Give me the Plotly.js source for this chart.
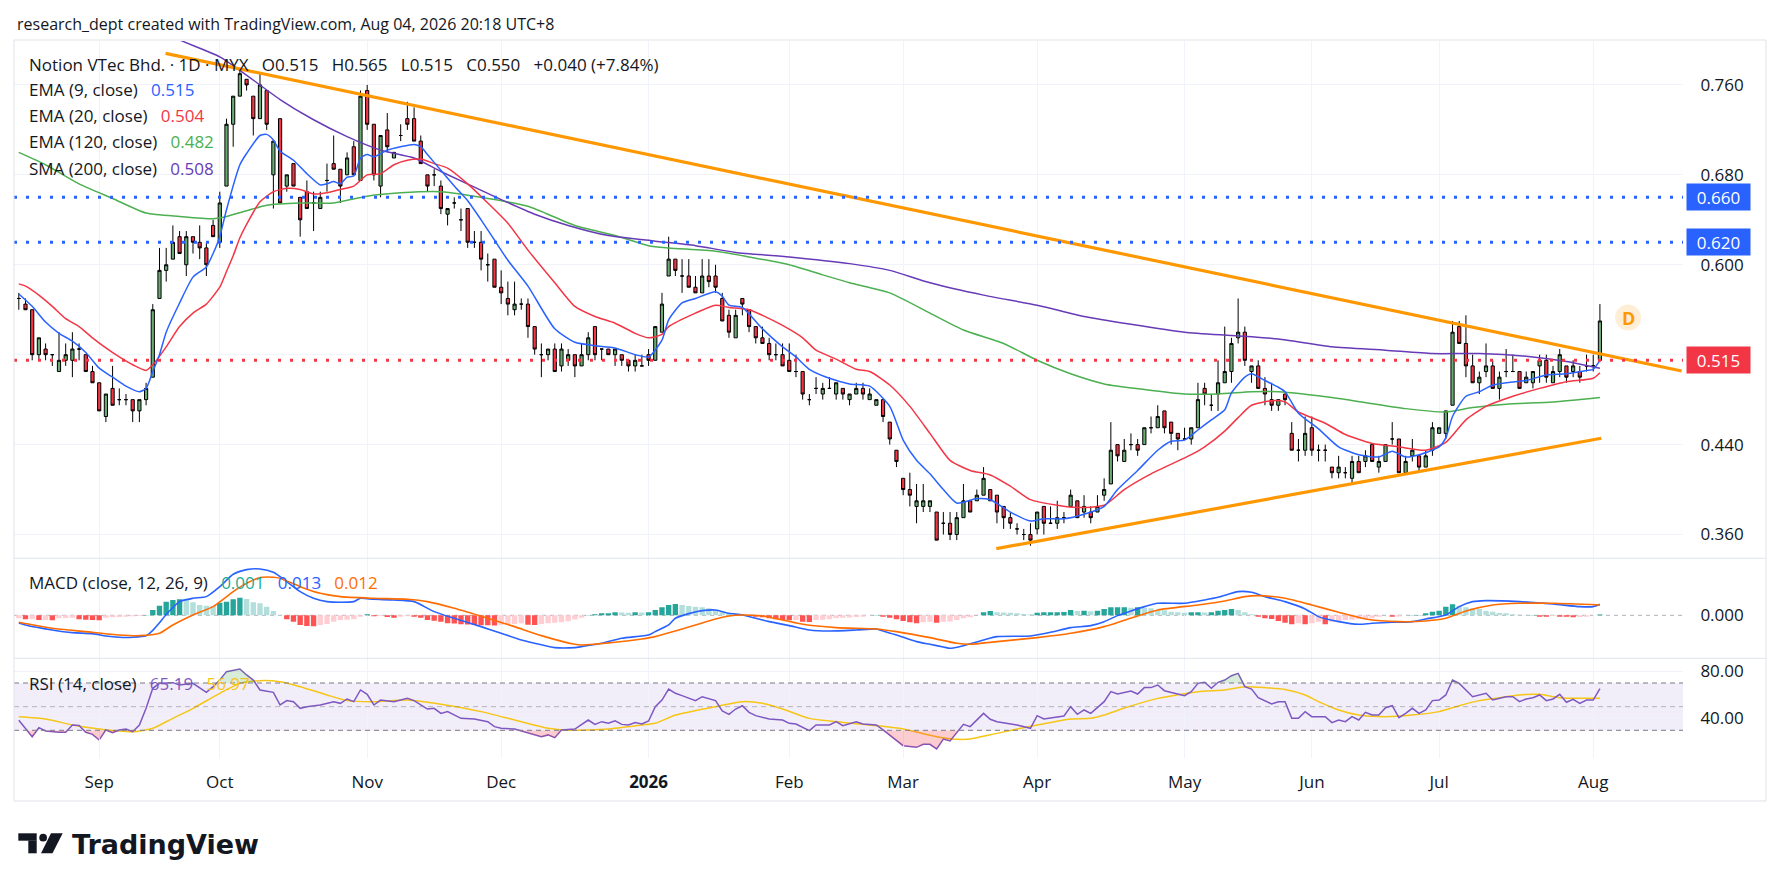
<!DOCTYPE html>
<html><head><meta charset="utf-8">
<script src="https://cdn.plot.ly/plotly-3.0.1.min.js"></script>
<style>html,body{margin:0;padding:0;background:#fff;}#chart{width:1781px;height:891px;}</style>
</head><body><div id="chart"></div>
<script>
const W = 1781, H = 891;
const FONT = '"Open Sans", "Noto Sans", sans-serif';
const TXT = '#131722';

// ---------------- OHLC (daily bars, index 0 .. 236) ----------------
const openP = [
.570,.565,.560,.520,.525,.520,.505,.515,.515,.525,
.520,.505,.495,.465,.490,.480,.480,.480,.470,.480,
.500,.570,.595,.605,.625,.600,.625,.620,.615,.635,
.620,.670,.725,.750,.765,.750,.730,.755,.680,.730,
.670,.690,.660,.665,.655,.650,.675,.690,.685,.680,
.705,.675,.755,.725,.670,.720,.695,.715,.730,.730,
.710,.680,.680,.670,.645,.655,.640,.650,.620,.620,
.600,.605,.580,.570,.560,.565,.565,.545,.520,.520,
.525,.510,.515,.520,.510,.520,.545,.525,.525,.520,
.520,.515,.510,.510,.520,.515,.540,.590,.605,.590,
.590,.580,.575,.590,.590,.570,.555,.535,.570,.560,
.545,.535,.530,.520,.520,.515,.505,.505,.480,.490,
.485,.490,.485,.490,.480,.485,.490,.480,.475,.480,
.460,.435,.410,.400,.385,.385,.385,.380,.370,.370,
.360,.375,.390,.390,.395,.400,.395,.385,.375,.365,
.360,.360,.365,.385,.370,.370,.375,.385,.390,.380,
.380,.380,.395,.405,.440,.425,.440,.440,.440,.455,
.455,.470,.460,.450,.445,.445,.455,.490,.475,.485,
.495,.505,.535,.540,.505,.510,.490,.480,.475,.485,
.450,.435,.435,.455,.435,.435,.420,.415,.415,.410,
.425,.425,.440,.420,.425,.445,.445,.415,.430,.430,
.420,.435,.450,.450,.475,.545,.530,.510,.495,.505,
.510,.490,.505,.505,.505,.495,.495,.510,.515,.495,
.505,.510,.505,.505,.510,.510,.515];
const highP = [
.575,.570,.560,.535,.530,.520,.540,.530,.540,.530,
.520,.510,.495,.485,.510,.490,.485,.480,.480,.495,
.565,.615,.615,.635,.630,.630,.625,.635,.620,.640,
.665,.730,.750,.775,.765,.750,.770,.755,.710,.730,
.680,.690,.660,.675,.665,.665,.690,.715,.685,.700,
.710,.755,.760,.725,.715,.735,.700,.725,.745,.740,
.715,.680,.685,.675,.650,.660,.650,.650,.630,.630,
.610,.605,.595,.585,.585,.570,.570,.545,.530,.525,
.530,.530,.525,.520,.530,.540,.545,.525,.525,.525,
.520,.515,.520,.520,.525,.545,.575,.625,.605,.605,
.605,.590,.605,.605,.600,.575,.560,.560,.570,.560,
.545,.545,.535,.530,.530,.530,.520,.505,.485,.500,
.495,.500,.495,.490,.485,.495,.495,.490,.480,.480,
.460,.435,.410,.415,.405,.405,.390,.380,.380,.380,
.380,.405,.390,.400,.420,.400,.395,.385,.380,.370,
.365,.370,.380,.385,.385,.390,.380,.400,.390,.395,
.385,.395,.410,.460,.440,.445,.450,.445,.455,.465,
.475,.470,.460,.450,.455,.455,.495,.495,.485,.515,
.545,.535,.570,.545,.510,.515,.500,.495,.480,.485,
.460,.445,.465,.465,.440,.440,.420,.430,.420,.430,
.430,.435,.440,.430,.440,.460,.445,.430,.445,.430,
.435,.460,.455,.470,.550,.550,.555,.520,.505,.530,
.515,.505,.525,.520,.505,.505,.505,.520,.520,.510,
.525,.510,.515,.510,.520,.520,.565];
const lowP = [
.560,.560,.515,.515,.515,.510,.505,.510,.500,.515,
.505,.495,.470,.460,.475,.475,.475,.460,.460,.475,
.500,.570,.585,.605,.610,.590,.610,.605,.590,.625,
.615,.670,.705,.750,.755,.715,.730,.720,.650,.655,
.665,.670,.625,.650,.630,.650,.665,.685,.655,.680,
.680,.675,.720,.675,.660,.700,.695,.710,.720,.710,
.690,.665,.670,.645,.635,.650,.630,.615,.615,.595,
.585,.580,.565,.555,.555,.560,.535,.520,.500,.515,
.505,.505,.510,.500,.510,.515,.515,.515,.520,.510,
.510,.505,.505,.510,.510,.515,.540,.590,.590,.575,
.580,.575,.575,.580,.575,.550,.535,.535,.555,.540,
.530,.530,.515,.515,.510,.505,.500,.480,.475,.485,
.480,.490,.480,.480,.475,.485,.480,.480,.475,.460,
.440,.420,.395,.385,.370,.380,.380,.355,.360,.355,
.355,.375,.380,.390,.395,.390,.370,.365,.365,.360,
.355,.350,.360,.360,.370,.365,.370,.385,.375,.375,
.370,.380,.390,.405,.425,.425,.435,.430,.440,.450,
.455,.450,.440,.435,.445,.440,.455,.475,.470,.470,
.495,.495,.530,.510,.495,.490,.475,.470,.470,.475,
.435,.425,.430,.430,.425,.425,.410,.410,.410,.405,
.415,.420,.425,.415,.425,.440,.415,.415,.425,.415,
.420,.430,.450,.445,.475,.530,.500,.495,.485,.500,
.490,.480,.500,.505,.490,.495,.490,.495,.495,.495,
.500,.495,.500,.495,.505,.505,.515];
const closeP = [
.570,.560,.520,.535,.520,.520,.515,.520,.525,.525,
.505,.495,.470,.485,.475,.480,.480,.470,.480,.490,
.560,.595,.600,.620,.610,.625,.620,.615,.600,.625,
.655,.725,.750,.770,.760,.730,.760,.725,.710,.655,
.680,.670,.640,.650,.655,.660,.675,.685,.670,.695,
.680,.750,.725,.680,.715,.705,.700,.715,.725,.710,
.690,.670,.680,.650,.650,.655,.640,.620,.620,.605,
.600,.580,.575,.565,.565,.565,.545,.525,.520,.525,
.505,.525,.520,.510,.520,.535,.520,.525,.520,.525,
.515,.510,.515,.510,.515,.545,.565,.605,.595,.590,
.580,.575,.590,.585,.580,.550,.540,.555,.565,.545,
.535,.530,.520,.520,.510,.505,.505,.485,.480,.490,
.490,.490,.495,.485,.485,.490,.485,.485,.480,.465,
.445,.425,.400,.395,.390,.390,.390,.355,.370,.360,
.375,.390,.380,.395,.410,.390,.380,.375,.370,.365,
.360,.355,.380,.370,.370,.375,.375,.395,.375,.385,
.375,.385,.400,.435,.430,.435,.440,.435,.455,.455,
.465,.455,.450,.445,.445,.455,.480,.485,.475,.495,
.505,.530,.540,.515,.510,.490,.485,.475,.480,.480,
.435,.435,.450,.435,.435,.435,.415,.420,.415,.425,
.415,.430,.425,.425,.440,.445,.415,.425,.435,.420,
.430,.455,.455,.470,.540,.530,.510,.495,.500,.510,
.490,.500,.505,.505,.490,.500,.505,.515,.500,.505,
.520,.500,.510,.500,.510,.510,.550];

// ---------------- moving averages ----------------
const ema9Idx = [0,2,4,6,8,10,12,14,16,18,19,20,21,22,24,26,28,29,30,31,33,34,36,37,38,39,41,43,45,46,47,48,49,50,51,52,53,55,57,59,60,61,63,65,67,69,71,73,76,80,83,86,89,92,94,96,97,99,101,104,105,106,108,111,114,116,118,121,124,127,130,132,134,136,138,140,143,145,148,151,153,156,159,162,164,167,170,172,174,176,178,180,181,183,184,186,188,189,191,194,197,200,203,205,207,209,212,213,214,216,218,220,222,225,228,231,234,235,236];
const ema9Val = [.574,.563,.549,.539,.532,.522,.508,.500,.492,.487,.490,.505,.520,.540,.566,.589,.598,.610,.625,.649,.689,.699,.715,.716,.711,.701,.693,.681,.671,.672,.674,.672,.678,.679,.695,.698,.696,.702,.705,.707,.705,.698,.684,.670,.657,.640,.622,.604,.581,.543,.531,.528,.526,.520,.518,.533,.551,.566,.570,.576,.572,.564,.562,.543,.527,.518,.507,.499,.494,.492,.474,.444,.426,.414,.400,.388,.392,.391,.380,.372,.374,.374,.378,.385,.400,.417,.435,.443,.444,.453,.462,.471,.486,.500,.503,.497,.491,.487,.468,.454,.438,.431,.429,.434,.429,.431,.438,.446,.465,.483,.487,.493,.495,.497,.502,.503,.506,.507,.515];

const ema20Idx = [0,1,3,5,7,9,11,13,15,17,19,20,22,24,26,28,29,30,31,32,33,34,36,38,40,42,44,46,48,50,52,54,56,58,60,62,64,67,70,73,76,80,83,86,89,92,94,96,97,101,104,106,109,111,114,117,119,122,125,127,130,133,136,139,142,145,148,151,155,158,162,165,169,175,177,180,182,184,187,189,191,195,198,202,206,210,213,216,219,223,227,231,235,236];
const ema20Val = [.583,.581,.573,.563,.552,.545,.535,.526,.518,.511,.506,.511,.527,.545,.557,.565,.572,.580,.594,.608,.624,.636,.656,.665,.668,.667,.663,.664,.667,.670,.680,.681,.689,.693,.694,.690,.686,.672,.655,.637,.613,.584,.563,.554,.548,.539,.535,.538,.545,.557,.564,.562,.560,.555,.546,.535,.524,.516,.507,.505,.493,.474,.450,.426,.417,.413,.403,.391,.386,.384,.386,.400,.414,.431,.438,.452,.464,.475,.479,.478,.469,.459,.449,.441,.438,.435,.442,.462,.474,.483,.490,.496,.499,.504];

const ema120Idx = [0,4,9,14,19,24,29,31,34,37,42,47,52,57,63,71,76,83,89,94,97,104,109,115,120,124,130,136,141,147,152,157,162,168,174,179,184,188,197,207,213,217,222,229,236];
const ema120Val = [.700,.689,.672,.659,.646,.643,.641,.643,.648,.653,.655,.655,.661,.664,.665,.658,.652,.635,.626,.617,.615,.612,.607,.600,.591,.584,.575,.557,.542,.530,.515,.503,.494,.489,.485,.485,.487,.487,.481,.472,.469,.473,.476,.478,.482];

const sma200Idx = [22,24,30,33,39,44,49,54,59,63,72,77,82,88,95,101,107,115,124,130,136,144,152,159,166,174,181,188,196,204,211,218,226,231,236];
const sma200Val = [.806,.800,.785,.773,.747,.729,.714,.702,.695,.683,.658,.645,.635,.626,.621,.617,.611,.607,.601,.595,.584,.573,.564,.554,.547,.540,.537,.534,.527,.524,.521,.521,.518,.514,.508];

// ---------------- drawn levels and trend lines ----------------
const levelPrices = [0.660, 0.620, 0.515];
const levelLabels = ['0.660', '0.620', '0.515'];
const upperTrendIdx = [21.9, 248.2], upperTrendVal = [0.788, 0.5055];
const lowerTrendIdx = [145.9, 236.2], lowerTrendVal = [0.3474, 0.4456];
const badgeIdx = 240.2, badgePrice = 0.553;

// ---------------- MACD (12,26,9) ----------------
const macdIdx = [0,1,5,8,11,13,15,17,19,20,21,22,24,26,28,30,32,34,36,38,40,42,44,46,48,50,51,53,56,59,62,65,69,72,75,77,80,83,84,87,90,94,95,97,98,100,102,104,106,108,110,112,115,118,121,125,128,129,131,134,136,138,139,141,144,146,151,154,157,160,162,164,166,168,170,174,177,179,182,184,186,189,192,194,197,200,202,205,208,210,213,215,217,219,224,229,233,235,236];
const macdVal = [-.0092,-.0116,-.0176,-.0208,-.0220,-.0248,-.0264,-.0264,-.0246,-.0180,-.0090,.0010,.0164,.0204,.0224,.0344,.0492,.0548,.0556,.0516,.0404,.0284,.0204,.0164,.0156,.0164,.0204,.0192,.0184,.0164,.0044,-.0036,-.0136,-.0216,-.0296,-.0336,-.0388,-.0388,-.0376,-.0336,-.0276,-.0236,-.0196,-.0116,-.0036,.0020,.0056,.0064,.0024,.0004,-.0036,-.0076,-.0124,-.0176,-.0188,-.0176,-.0164,-.0188,-.0236,-.0316,-.0348,-.0380,-.0396,-.0364,-.0296,-.0256,-.0248,-.0204,-.0148,-.0124,-.0076,-.0004,.0052,.0104,.0144,.0144,.0184,.0216,.0284,.0276,.0224,.0164,.0076,-.0016,-.0076,-.0108,-.0096,-.0084,-.0076,-.0044,.0004,.0104,.0164,.0176,.0164,.0136,.0104,.0104,.0132];
const signalIdx = [0,5,10,15,18,21,23,26,29,32,34,36,38,39,42,45,48,53,58,61,65,70,74,78,83,84,89,93,95,98,101,104,106,108,111,114,117,122,128,131,136,140,142,146,152,157,162,165,170,176,180,183,185,189,193,197,201,206,210,213,216,220,224,229,236];
const signalVal = [-.0084,-.0156,-.0196,-.0236,-.0244,-.0216,-.0116,.0004,.0104,.0284,.0384,.0452,.0456,.0444,.0344,.0264,.0224,.0204,.0192,.0164,.0084,-.0036,-.0136,-.0244,-.0348,-.0356,-.0324,-.0284,-.0256,-.0188,-.0116,-.0044,-.0008,.0004,-.0008,-.0056,-.0108,-.0148,-.0164,-.0196,-.0268,-.0336,-.0348,-.0316,-.0268,-.0216,-.0136,-.0060,.0064,.0124,.0172,.0224,.0236,.0204,.0124,.0036,-.0044,-.0076,-.0068,-.0036,.0052,.0124,.0144,.0144,.0124];
const macdHist = [
-.0036,-.0048,-.0048,-.0056,-.0056,-.0058,-.0036,-.0032,-.0028,-.0048,
-.0052,-.0056,-.0058,-.0028,-.0024,-.0020,-.0016,-.0012,-.0008,.0004,
.0064,.0116,.0164,.0184,.0192,.0184,.0156,.0124,.0116,.0112,
.0150,.0164,.0192,.0212,.0196,.0156,.0144,.0104,.0052,.0004,
-.0048,-.0076,-.0116,-.0128,-.0132,-.0116,-.0104,-.0076,-.0056,-.0052,
-.0048,-.0016,.0012,-.0012,-.0008,-.0020,-.0028,-.0016,-.0012,-.0016,
-.0028,-.0056,-.0064,-.0076,-.0096,-.0098,-.0108,-.0110,-.0116,-.0118,
-.0120,-.0122,-.0112,-.0108,-.0104,-.0096,-.0112,-.0116,-.0104,-.0096,
-.0088,-.0084,-.0070,-.0050,-.0030,.0004,.0012,.0024,.0026,.0036,
.0034,.0032,.0036,.0034,.0038,.0064,.0096,.0124,.0136,.0124,
.0112,.0104,.0096,.0084,.0064,.0036,.0020,.0012,.0002,-.0008,
-.0016,-.0024,-.0036,-.0048,-.0056,-.0060,-.0056,-.0076,-.0080,-.0056,
-.0054,-.0048,-.0036,-.0028,-.0026,-.0020,-.0016,.0002,.0004,-.0016,
-.0028,-.0048,-.0068,-.0084,-.0096,-.0084,-.0076,-.0088,-.0076,-.0074,
-.0056,-.0036,-.0024,.0002,.0036,.0052,.0036,.0035,.0032,.0024,
.0016,.0012,.0032,.0036,.0037,.0038,.0039,.0064,.0052,.0054,
.0050,.0054,.0076,.0096,.0097,.0098,.0092,.0096,.0094,.0084,
.0064,.0062,.0044,.0036,.0032,.0036,.0037,.0035,.0037,.0056,
.0064,.0076,.0064,.0036,.0012,-.0016,-.0036,-.0044,-.0068,-.0088,
-.0108,-.0096,-.0108,-.0096,-.0076,-.0108,-.0076,-.0068,-.0056,-.0054,
-.0044,-.0042,-.0036,-.0016,.0002,-.0016,-.0014,.0002,.0003,.0004,
.0024,.0044,.0056,.0104,.0132,.0116,.0096,.0084,.0076,.0052,
.0044,.0028,.0024,.0012,.0008,.0004,.0005,-.0016,-.0018,-.0008,
-.0016,-.0018,-.0024,-.0020,-.0016,.0002,.0010];

// ---------------- RSI (14) and its MA ----------------
const rsiIdx = [0,2,3,4,6,7,8,9,10,11,12,13,14,15,16,17,18,19,20,21,23,24,26,28,29,30,31,33,34,35,36,38,39,40,41,42,43,45,47,48,49,50,51,52,53,54,56,58,59,60,61,62,63,64,65,66,68,70,71,72,74,77,78,79,80,81,83,85,86,87,88,89,90,91,92,93,94,95,96,97,98,99,101,102,103,104,105,106,107,108,109,110,112,114,115,116,118,119,121,122,123,125,126,128,129,131,132,134,135,136,137,138,139,141,142,144,145,146,149,151,152,153,155,156,157,158,159,160,162,163,164,166,167,168,169,170,171,173,174,175,176,177,178,179,180,181,182,183,184,185,187,188,189,190,191,192,193,195,196,197,198,199,200,201,202,203,204,205,206,207,208,209,210,211,212,213,214,215,217,219,220,222,223,224,225,226,227,228,229,230,231,232,233,234,235,236];
const rsiVal = [38.5,24.6,32.2,29.4,28.3,28.3,34.5,34.0,28.3,26.6,21.8,30.3,28.0,30.3,31.1,28.8,34.5,48.6,65.5,69.7,70.3,68.3,69.7,62.1,66.9,72.5,79.6,81.8,76.8,72.5,64.1,62.1,51.4,55.1,54.2,48.6,50.0,51.4,54.2,52.8,56.5,54.2,64.1,60.4,51.4,55.6,54.2,57.0,55.1,51.4,48.0,48.6,44.3,45.8,42.9,40.1,39.6,37.3,33.1,31.7,31.1,26.1,24.6,26.1,23.8,30.3,31.1,38.7,35.0,37.3,35.9,38.1,35.0,34.5,36.5,35.3,37.9,50.0,55.6,64.9,61.3,59.3,55.1,58.4,57.0,55.1,46.3,43.5,48.0,50.8,45.2,42.4,39.6,38.7,35.9,35.3,29.7,34.5,34.5,37.3,33.9,37.3,35.3,34.5,30.3,21.8,17.0,15.6,18.1,18.1,14.2,22.6,21.0,35.0,33.1,44.3,39.3,37.3,34.5,31.7,42.4,39.6,41.5,42.1,50.0,43.5,47.2,44.3,54.2,62.7,60.7,63.2,60.7,66.1,66.1,68.3,63.5,60.4,59.3,62.7,69.7,70.6,65.5,70.6,72.5,76.2,78.2,66.9,64.9,57.6,52.2,54.2,54.2,40.1,40.1,45.8,41.5,41.5,36.5,38.7,37.3,41.5,38.7,45.2,42.9,42.9,49.1,50.8,40.7,44.3,48.6,44.3,47.2,55.1,55.6,59.9,72.5,69.7,58.4,61.3,55.6,58.4,58.4,54.2,56.5,57.6,59.9,55.1,56.5,60.4,53.7,56.2,52.8,55.6,55.6,65.2];
const rsiMaIdx = [0,4,8,12,17,20,23,26,30,33,36,39,42,46,49,53,58,63,69,74,79,82,88,93,95,98,104,108,111,114,118,123,128,132,137,140,142,146,152,157,160,162,165,170,176,180,183,186,189,192,194,197,200,204,208,212,215,218,221,224,227,230,236];
const rsiMaVal = [41.5,39.6,34.5,31.1,28.8,31.7,40.1,48.6,61.3,69.7,72.0,71.1,66.9,59.9,55.1,54.2,55.6,52.0,45.8,38.7,31.7,30.0,31.1,34.5,35.9,42.9,50.0,54.2,52.8,48.0,40.1,36.7,33.9,31.1,24.6,22.4,22.6,27.4,34.5,39.6,40.1,42.9,48.8,57.0,62.7,64.1,66.9,66.1,64.6,59.9,54.2,47.2,42.9,41.5,42.9,45.8,50.8,55.1,57.6,59.9,60.4,57.6,57.0];

// ---------------- axis ticks ----------------
const monthTickIdx = [12,30,52,72,94,115,132,152,174,193,212,235];
const monthTickText = ['Sep','Oct','Nov','Dec','<b>2026</b>','Feb','Mar','Apr','May','Jun','Jul','Aug'];
const priceTicks = [0.36,0.44,0.52,0.60,0.68,0.76];
const priceTickText = ['0.360','0.440','','0.600','0.680','0.760'];

// ================= layout geometry (pixels of the 1781x891 picture) =================
const px = v => v / W;
const py = v => 1 - v / H;
const X_RANGE = [-0.716, 248.4];
const barIdx = openP.map((_, i) => i);

const histColors = macdHist.map((v, i) => {
  const p = i > 0 ? macdHist[i - 1] : v;
  if (v >= 0) return v >= p ? '#26A69A' : '#B2DFDB';
  return v < p ? '#FF5252' : '#FFCDD2';
});

const lineT = (x, y, color, yaxis, width, shape) => ({
  type: 'scatter', mode: 'lines', x, y, xaxis: 'x', yaxis,
  line: { color, width: width || 1.6, shape: shape || 'spline', smoothing: 0.6 },
  hoverinfo: 'skip'
});

const traces = [
  {
    type: 'candlestick', x: barIdx, open: openP, high: highP, low: lowP, close: closeP,
    xaxis: 'x', yaxis: 'y', hoverinfo: 'skip',
    increasing: { line: { color: '#000000', width: 1 }, fillcolor: '#6AAB73' },
    decreasing: { line: { color: '#000000', width: 1 }, fillcolor: '#F23645' }
  },
  lineT(ema120Idx, ema120Val, '#4CAF50', 'y', 1.5),
  lineT(sma200Idx, sma200Val, '#673AB7', 'y', 1.5),
  lineT(ema20Idx, ema20Val, '#F23645', 'y', 1.5),
  lineT(ema9Idx, ema9Val, '#2962FF', 'y', 1.5),
  lineT(upperTrendIdx, upperTrendVal, '#FF9800', 'y', 3.2, 'linear'),
  lineT(lowerTrendIdx, lowerTrendVal, '#FF9800', 'y', 3.2, 'linear'),
  // MACD
  { type: 'bar', x: barIdx, y: macdHist, xaxis: 'x', yaxis: 'y2', width: 0.8,
    marker: { color: histColors, line: { width: 0 } }, hoverinfo: 'skip' },
  lineT(macdIdx, macdVal, '#2962FF', 'y2', 1.6),
  lineT(signalIdx, signalVal, '#FF6D00', 'y2', 1.6),
  // RSI overbought / oversold fills (clipped by their own axis domains)
  { type: 'scatter', mode: 'lines', x: [rsiIdx[0], rsiIdx[rsiIdx.length - 1]], y: [70, 70],
    xaxis: 'x', yaxis: 'y4', line: { width: 0, color: 'rgba(0,0,0,0)' }, hoverinfo: 'skip' },
  { type: 'scatter', mode: 'lines', x: rsiIdx, y: rsiVal, xaxis: 'x', yaxis: 'y4',
    line: { width: 0, color: 'rgba(0,0,0,0)' }, fill: 'tonexty', fillcolor: 'rgba(76,175,80,0.22)', hoverinfo: 'skip' },
  { type: 'scatter', mode: 'lines', x: [rsiIdx[0], rsiIdx[rsiIdx.length - 1]], y: [30, 30],
    xaxis: 'x', yaxis: 'y5', line: { width: 0, color: 'rgba(0,0,0,0)' }, hoverinfo: 'skip' },
  { type: 'scatter', mode: 'lines', x: rsiIdx, y: rsiVal, xaxis: 'x', yaxis: 'y5',
    line: { width: 0, color: 'rgba(0,0,0,0)' }, fill: 'tonexty', fillcolor: 'rgba(242,54,69,0.25)', hoverinfo: 'skip' },
  lineT(rsiMaIdx, rsiMaVal, '#F7C515', 'y3', 1.5),
  lineT(rsiIdx, rsiVal, '#7E57C2', 'y3', 1.5, 'linear')
];

const NB = '\u00a0\u00a0\u00a0';
const sp = (c, t) => `<span style="color:${c}">${t}</span>`;
const ann = (x, y, text, size, extra) => Object.assign({
  xref: 'paper', yref: 'paper', x: px(x), y: py(y), xanchor: 'left', yanchor: 'middle',
  text, showarrow: false, font: { family: FONT, size: size || 17, color: TXT }
}, extra || {});

const annotations = [
  ann(15, 23.5, 'research_dept created with TradingView.com, Aug 04, 2026 20:18 UTC+8', 16),
  ann(27, 64, 'Notion VTec Bhd. · 1D · MYX' + NB + 'O0.515' + NB + 'H0.565' + NB + 'L0.515' + NB + 'C0.550' + NB + '+0.040 (+7.84%)'),
  ann(27, 90, 'EMA (9, close)' + NB + sp('#2962FF', '0.515')),
  ann(27, 116, 'EMA (20, close)' + NB + sp('#F23645', '0.504')),
  ann(27, 142, 'EMA (120, close)' + NB + sp('#4CAF50', '0.482')),
  ann(27, 168, 'SMA (200, close)' + NB + sp('#673AB7', '0.508')),
  ann(26.5, 582, 'MACD (close, 12, 26, 9)' + NB + sp('#22AB94', '0.001') + NB + sp('#2962FF', '0.013') + NB + sp('#FF6D00', '0.012')),
  ann(26.5, 683, 'RSI (14, close)' + NB + sp('#7E57C2', '65.19') + NB + sp('#F7C515', '56.97')),
  ann(70, 844.5, '<b>TradingView</b>', 27, { font: { family: '"DejaVu Sans", sans-serif', size: 27, color: TXT } }),
  { xref: 'x', yref: 'y', x: badgeIdx, y: badgePrice, text: '<b>D</b>', showarrow: false,
    font: { family: FONT, size: 18, color: '#FF9800' }, xanchor: 'center', yanchor: 'middle' }
];
const levelColors = ['#2962FF', '#2962FF', '#F23645'];
levelPrices.forEach((p, k) => {
  annotations.push({ xref: 'paper', yref: 'y', x: px(1686), y: p, xanchor: 'left', yanchor: 'middle',
    text: levelLabels[k], showarrow: false, bgcolor: levelColors[k], width: 59, height: 22, borderpad: 2,
    align: 'center', font: { family: FONT, size: 17, color: '#FFFFFF' } });
});

const shapes = [];
// dotted horizontal levels
levelPrices.forEach((p, k) => shapes.push({ type: 'line', xref: 'x', yref: 'y', x0: X_RANGE[0], x1: X_RANGE[1], y0: p, y1: p,
  line: { color: levelColors[k], width: 3, dash: '3px,9px' } }));
// D badge
shapes.push({ type: 'circle', xref: 'x', yref: 'y', xsizemode: 'pixel', ysizemode: 'pixel',
  xanchor: badgeIdx, yanchor: badgePrice, x0: -13, x1: 13, y0: -13, y1: 13,
  fillcolor: 'rgba(255,152,0,0.16)', line: { width: 0 } });
// MACD zero line
shapes.push({ type: 'line', xref: 'x', yref: 'y2', x0: X_RANGE[0], x1: X_RANGE[1], y0: 0, y1: 0,
  line: { color: 'rgba(120,123,134,0.6)', width: 1, dash: '4px,4px' }, layer: 'below' });
// RSI band
shapes.push({ type: 'rect', xref: 'x', yref: 'y3', x0: X_RANGE[0], x1: X_RANGE[1], y0: 30, y1: 70,
  fillcolor: 'rgba(126,87,194,0.1)', line: { width: 0 }, layer: 'below' });
[[70, '#787B86'], [50, 'rgba(120,123,134,0.5)'], [30, '#787B86']].forEach(([v, c]) =>
  shapes.push({ type: 'line', xref: 'x', yref: 'y3', x0: X_RANGE[0], x1: X_RANGE[1], y0: v, y1: v,
    line: { color: c, width: 1, dash: '5px,4px' } }));
// frame and pane separators
shapes.push({ type: 'rect', xref: 'paper', yref: 'paper', x0: px(14), x1: px(1766), y0: py(801), y1: py(40),
  line: { color: '#E0E3EB', width: 1 }, fillcolor: 'rgba(0,0,0,0)' });
[558.3, 658.3].forEach(yv => shapes.push({ type: 'line', xref: 'paper', yref: 'paper', x0: px(14), x1: px(1766),
  y0: py(yv), y1: py(yv), line: { color: '#E0E3EB', width: 1 } }));
// TradingView logo mark
const rectPath = (x0, y0, x1, y1) => `M${px(x0)},${py(y0)} L${px(x1)},${py(y0)} L${px(x1)},${py(y1)} L${px(x0)},${py(y1)} Z`;
shapes.push({ type: 'path', xref: 'paper', yref: 'paper', path: rectPath(18.3, 833.3, 36.7, 840.7), fillcolor: TXT, line: { width: 0 } });
shapes.push({ type: 'path', xref: 'paper', yref: 'paper', path: rectPath(28.3, 840.5, 36.7, 853.3), fillcolor: TXT, line: { width: 0 } });
shapes.push({ type: 'circle', xref: 'paper', yref: 'paper', x0: px(39.3), x1: px(47), y0: py(841.5), y1: py(833.8), fillcolor: TXT, line: { width: 0 } });
shapes.push({ type: 'path', xref: 'paper', yref: 'paper',
  path: `M${px(51)},${py(833.3)} L${px(62.7)},${py(833.3)} L${px(52.5)},${py(853.3)} L${px(41)},${py(853.3)} Z`, fillcolor: TXT, line: { width: 0 } });

const yCommon = { side: 'right', anchor: 'x', zeroline: false, showline: false, ticks: 'outside', ticklen: 13,
  tickcolor: 'rgba(0,0,0,0)', tickfont: { family: FONT, size: 17, color: TXT }, gridcolor: '#F0F3FA', gridwidth: 1, fixedrange: true };

const layout = {
  width: W, height: H, margin: { l: 0, r: 0, t: 0, b: 0 }, paper_bgcolor: '#FFFFFF', plot_bgcolor: 'rgba(0,0,0,0)',
  showlegend: false, dragmode: false, boxgap: 0.32,
  xaxis: { domain: [px(14), px(1683)], range: X_RANGE, anchor: 'y3', tickmode: 'array', tickvals: monthTickIdx,
    ticktext: monthTickText, showgrid: true, gridcolor: '#F0F3FA', zeroline: false, showline: false,
    ticks: 'outside', ticklen: 9, tickcolor: 'rgba(0,0,0,0)', tickfont: { family: FONT, size: 17, color: TXT },
    rangeslider: { visible: false }, fixedrange: true },
  yaxis: Object.assign({}, yCommon, { domain: [py(558), py(41)], range: [0.33911, 0.79907], tickmode: 'array',
    tickvals: priceTicks, ticktext: priceTickText }),
  yaxis2: Object.assign({}, yCommon, { domain: [py(658.3), py(558.3)], range: [-0.0516, 0.0684], tickmode: 'array',
    tickvals: [0], ticktext: ['0.000'], showgrid: false }),
  yaxis3: Object.assign({}, yCommon, { domain: [py(758), py(658.3)], range: [6.575, 90.89], tickmode: 'array',
    tickvals: [40, 80], ticktext: ['40.00', '80.00'] }),
  yaxis4: { domain: [py(683), py(658.3)], range: [70, 90.89], anchor: 'x', visible: false, fixedrange: true },
  yaxis5: { domain: [py(758), py(730.3)], range: [6.575, 30], anchor: 'x', visible: false, fixedrange: true },
  annotations, shapes
};

Plotly.newPlot('chart', traces, layout, { displayModeBar: false, staticPlot: true });
</script></body></html>
